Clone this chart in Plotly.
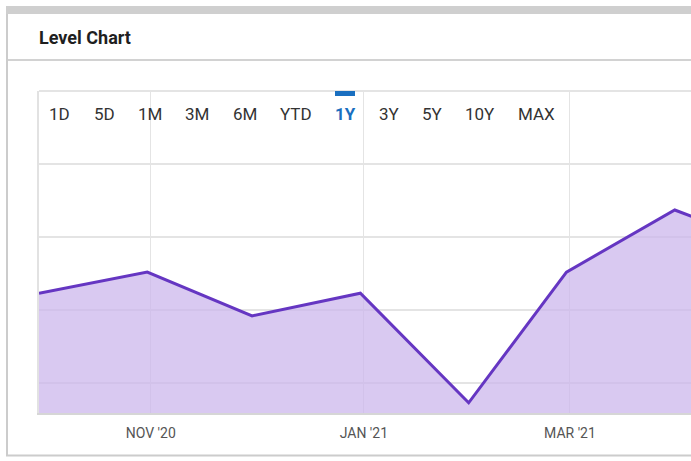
import plotly.graph_objects as go

# ---- data ----
dates = ["2020-09-30", "2020-10-31", "2020-11-30", "2020-12-31",
         "2021-01-31", "2021-02-28", "2021-03-31", "2021-04-30"]
levels = [112.3, 115.2, 109.2, 112.3, 97.3, 115.2, 123.7, 118.3]

tick_dates = ["2020-11-01", "2021-01-01", "2021-03-01"]
tick_labels = ["NOV '20", "JAN '21", "MAR '21"]

range_buttons = ["1D", "5D", "1M", "3M", "6M", "YTD", "1Y", "3Y", "5Y", "10Y", "MAX"]
active_button = "1Y"

# ---- layout constants ----
W, H = 691, 461
L, R, T, B = 39, 0, 91, 48
PW = W - L - R
PH = H - T - B


def px(xp):
    return (xp - L) / PW


def py(yp):
    return (H - B - yp) / PH


fig = go.Figure()
fig.add_trace(go.Scatter(
    x=dates, y=levels, mode="lines",
    line=dict(color="#6536c2", width=3),
    fill="tozeroy", fillcolor="rgba(202,180,236,0.72)",
    hoverinfo="x+y", showlegend=False,
))

grid = "#e4e4e4"
fig.update_layout(
    width=W, height=H,
    margin=dict(l=L, r=R, t=T, b=B, pad=0),
    paper_bgcolor="white", plot_bgcolor="white",
    font=dict(family="Roboto, sans-serif", color="#555"),
    xaxis=dict(
        range=["2020-09-30", "2021-04-04 15:36"],
        tickvals=tick_dates, ticktext=tick_labels,
        showgrid=True, gridcolor=grid, gridwidth=1,
        showline=True, linecolor="#d6d6d6", linewidth=2,
        ticks="", tickfont=dict(size=14, color="#555"),
        ticklabelstandoff=6, zeroline=False, fixedrange=True,
    ),
    yaxis=dict(
        range=[95.9, 140], tickvals=[100, 110, 120, 130],
        showticklabels=False, showgrid=True, gridcolor=grid, gridwidth=2,
        showline=True, linecolor="#e2e2e2", linewidth=2,
        zeroline=False, ticks="", fixedrange=True,
    ),
)

shapes = []
# top gray band of the card
shapes.append(dict(type="rect", xref="paper", yref="paper",
                   x0=px(6), x1=px(W + 5), y0=py(14), y1=py(6),
                   fillcolor="#cfcfcf", line=dict(width=0), layer="above"))
# left card border
shapes.append(dict(type="line", xref="paper", yref="paper",
                   x0=px(7), x1=px(7), y0=py(14), y1=py(456),
                   line=dict(color="#cccccc", width=2)))
# bottom card border
shapes.append(dict(type="line", xref="paper", yref="paper",
                   x0=px(6), x1=px(W + 5), y0=py(455.5), y1=py(455.5),
                   line=dict(color="#cccccc", width=2)))
# header divider
shapes.append(dict(type="line", xref="paper", yref="paper",
                   x0=px(8), x1=px(W + 5), y0=py(60), y1=py(60),
                   line=dict(color="#d2d2d2", width=2)))
# top border of plot
shapes.append(dict(type="line", xref="paper", yref="paper",
                   x0=0, x1=1.01, y0=1, y1=1,
                   line=dict(color="#e4e4e4", width=2)))
# active range marker
shapes.append(dict(type="rect", xref="paper", yref="paper",
                   x0=px(335), x1=px(355), y0=py(96), y1=py(91),
                   fillcolor="#1a6fc0", line=dict(width=0), layer="above"))
fig.update_layout(shapes=shapes)

annotations = [dict(text="<b>Level Chart</b>", xref="paper", yref="paper",
                    x=px(37), y=py(37), xanchor="left", yanchor="middle",
                    showarrow=False, font=dict(size=18, color="#1f1f1f",
                                               family="Roboto, sans-serif"))]
btn_centers = [59, 104, 150, 197, 245, 296, 345, 389, 432, 480, 536]
for lab, cx in zip(range_buttons, btn_centers):
    active = lab == active_button
    annotations.append(dict(
        text=f"<b>{lab}</b>" if active else lab,
        xref="paper", yref="paper", x=px(cx), y=py(114),
        xanchor="center", yanchor="middle", showarrow=False,
        font=dict(size=17, color="#1a6fc0" if active else "#333333",
                  family="Roboto, sans-serif"),
    ))
fig.update_layout(annotations=annotations)

fig.write_html("out.html", config={"displayModeBar": False})
